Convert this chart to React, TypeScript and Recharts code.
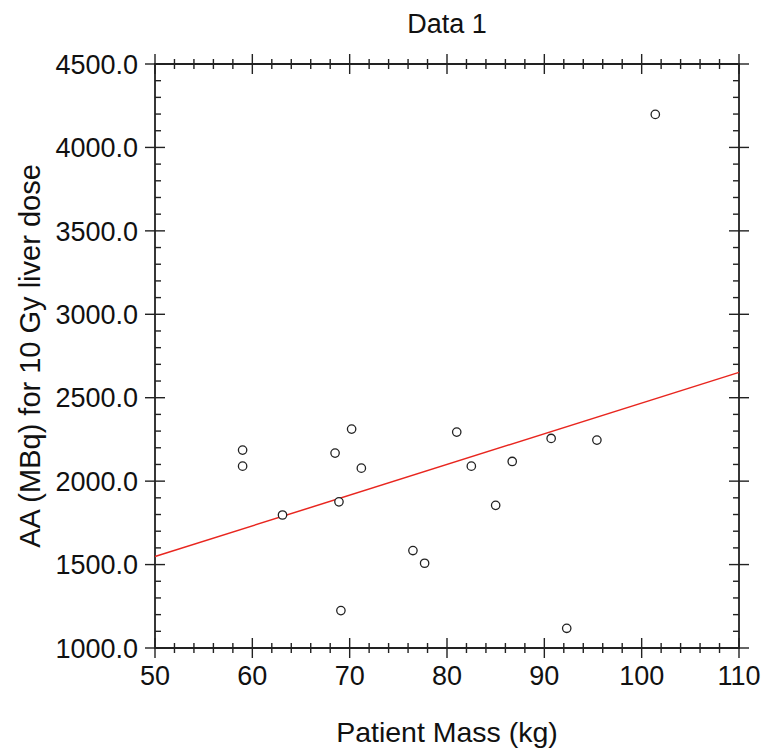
import { ScatterChart, Scatter, XAxis, YAxis, ReferenceArea, Label } from "recharts";

// patient mass (kg)
const massKg = [59.0, 59.0, 63.1, 68.5, 68.9, 69.1, 70.2, 71.2, 76.5, 77.7, 81.0, 82.5, 85.0, 86.7, 90.7, 92.3, 95.4, 101.4];
// AA (MBq) for 10 Gy liver dose
const activity = [2186, 2090, 1797, 2168, 1876, 1224, 2312, 2078, 1584, 1508, 2294, 2090, 1855, 2118, 2256, 1118, 2246, 4198];

// regression line end points
const fitX = [50, 110];
const fitY = [1548, 2652];

const xMajor = [50, 60, 70, 80, 90, 100, 110];
const yMajor = [1000, 1500, 2000, 2500, 3000, 3500, 4000, 4500];

const xTicks: number[] = [];
for (let v = 50; v <= 110; v += 2) xTicks.push(v);
const yTicks: number[] = [];
for (let v = 1000; v <= 4500; v += 100) yTicks.push(v);

const points = massKg.map((x, i) => ({ x, y: activity[i] }));
const fitLine = fitX.map((x, i) => ({ x, y: fitY[i] }));

const W = 765;
const H = 749;
const LEFT = 155;
const RIGHT = 739;
const TOP = 64;
const BOTTOM = 648;
const FONT = "'Liberation Sans', Arial, Helvetica, sans-serif";
const INK = "#222";

const XTick = (props: any) => {
  const { x, payload } = props;
  const major = xMajor.includes(payload.value);
  const len = major ? 10 : 5;
  return (
    <g>
      <line x1={x} x2={x} y1={BOTTOM - len} y2={BOTTOM + len} stroke={INK} strokeWidth={1.4} />
      <line x1={x} x2={x} y1={TOP - len} y2={TOP + len} stroke={INK} strokeWidth={1.4} />
      {major && (
        <text x={x} y={685} textAnchor="middle" fontSize={27} fontFamily={FONT} fill="#111">
          {payload.value}
        </text>
      )}
    </g>
  );
};

const YTick = (props: any) => {
  const { y, payload } = props;
  const major = yMajor.includes(payload.value);
  return (
    <g>
      {major ? (
        <>
          <line x1={LEFT - 10} x2={LEFT + 10} y1={y} y2={y} stroke={INK} strokeWidth={1.4} />
          <line x1={RIGHT - 10} x2={RIGHT + 10} y1={y} y2={y} stroke={INK} strokeWidth={1.4} />
          <text x={138} y={y} dy="0.36em" textAnchor="end" fontSize={27} fontFamily={FONT} fill="#111">
            {payload.value.toFixed(1)}
          </text>
        </>
      ) : (
        <>
          <line x1={LEFT} x2={LEFT + 6} y1={y} y2={y} stroke={INK} strokeWidth={1.4} />
          <line x1={RIGHT - 6} x2={RIGHT} y1={y} y2={y} stroke={INK} strokeWidth={1.4} />
        </>
      )}
    </g>
  );
};

const Dot = (props: any) => {
  const { cx, cy } = props;
  return <circle cx={cx} cy={cy} r={4.2} fill="#fff" stroke={INK} strokeWidth={1.3} />;
};

export default function App() {
  return (
    <div style={{ position: "absolute", left: 0, top: 0, width: W, height: H, background: "#fff" }}>
      <div
        style={{
          position: "absolute",
          left: LEFT,
          width: RIGHT - LEFT,
          top: 8,
          textAlign: "center",
          fontFamily: FONT,
          fontSize: 27,
          lineHeight: "32px",
          color: "#111",
        }}
      >
        Data 1
      </div>
      <ScatterChart
        width={W}
        height={H}
        margin={{ top: TOP, right: W - RIGHT, bottom: H - BOTTOM - 40, left: LEFT - 100 }}
      >
        <XAxis
          type="number"
          dataKey="x"
          domain={[50, 110]}
          ticks={xTicks}
          interval={0}
          height={40}
          axisLine={false}
          tickLine={false}
          tickSize={0}
          tickMargin={0}
          tick={<XTick />}
        >
          <Label
            content={(p: any) => {
              const vb = p.viewBox;
              return (
                <text x={vb.x + vb.width / 2} y={742} textAnchor="middle" fontSize={28.5} fontFamily={FONT} fill="#111">
                  Patient Mass (kg)
                </text>
              );
            }}
          />
        </XAxis>
        <YAxis
          type="number"
          dataKey="y"
          domain={[1000, 4500]}
          ticks={yTicks}
          interval={0}
          width={100}
          axisLine={false}
          tickLine={false}
          tickSize={0}
          tickMargin={0}
          tick={<YTick />}
        >
          <Label
            content={() => (
              <text
                x={30}
                y={356}
                transform="rotate(-90, 30, 356)"
                textAnchor="middle"
                dominantBaseline="central"
                fontSize={29}
                fontFamily={FONT}
                fill="#111"
              >
                AA (MBq) for 10 Gy liver dose
              </text>
            )}
          />
        </YAxis>
        <ReferenceArea
          x1={50}
          x2={110}
          y1={1000}
          y2={4500}
          fill="none"
          fillOpacity={0}
          stroke={INK}
          strokeWidth={1.8}
          ifOverflow="visible"
        />
        <Scatter
          data={fitLine}
          line={{ stroke: "#e8261f", strokeWidth: 1.5 }}
          shape={() => <g />}
          isAnimationActive={false}
        />
        <Scatter data={points} shape={<Dot />} isAnimationActive={false} />
      </ScatterChart>
    </div>
  );
}
